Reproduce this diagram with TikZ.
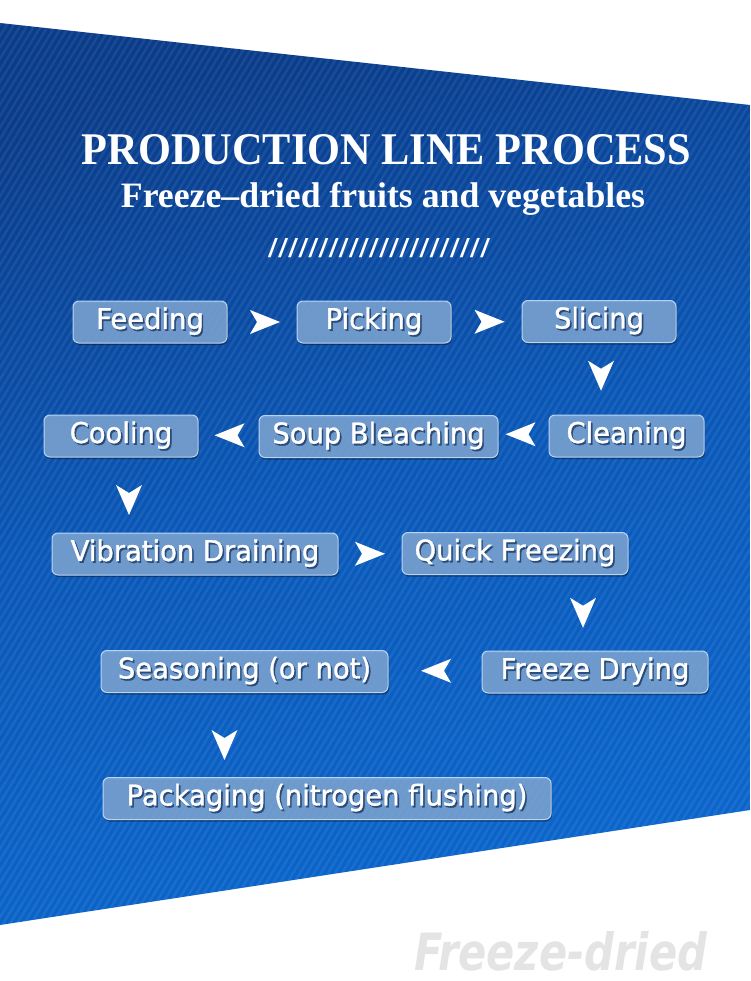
\documentclass[tikz,border=0pt]{standalone}
\usepackage{fontspec}
\setmainfont{DejaVu Sans}
\newfontfamily\titlefont{Liberation Serif}
\newfontfamily\boxfont{DejaVu Sans}[FakeBold=1.2, FakeStretch=0.96]
\usetikzlibrary{calc,shadows}
\definecolor{bgdark}{HTML}{0A3C8A}
\definecolor{bgmid}{HTML}{0A58B8}
\definecolor{bglight}{HTML}{0B66CC}
\definecolor{boxfill}{HTML}{80AADB}
\definecolor{boxline}{HTML}{BCD3EE}
\definecolor{shad}{HTML}{2A4B78}
\definecolor{wmark}{HTML}{E4E4E4}
\newcommand\shtext[1]{\makebox[0pt][l]{\hspace{1.6pt}\raisebox{-1.8pt}{\color{shad}#1}}#1}
\begin{document}
\begin{tikzpicture}[x=1pt,y=-1pt,
  stepbox/.style={draw=boxline, line width=1pt, fill=boxfill, fill opacity=0.85,
    draw opacity=1, text opacity=1, rounded corners=6pt, minimum height=42pt,
    inner sep=0pt, text=white, font=\boxfont\fontsize{28.5}{29}\selectfont,
    drop shadow={shadow xshift=1pt, shadow yshift=-2pt, opacity=0.35, fill=black}},
  arrR/.pic={\fill[white] (15,0) -- (-15,-12) -- (-8,0) -- (-15,12) -- cycle;},
  arrL/.pic={\fill[white] (-15,0) -- (15,-12) -- (8,0) -- (15,12) -- cycle;},
  arrD/.pic={\fill[white] (0,15) -- (-13,-15) -- (0,-7) -- (13,-15) -- cycle;},
  ]
\path[use as bounding box] (0,0) rectangle (750,981);
\fill[white] (0,0) rectangle (750,981);
% blue band
\shade[top color=bgdark, bottom color=bglight, middle color=bgmid, shading angle=15]
  (0,23) -- (750,105) -- (750,810) -- (0,925) -- cycle;
\begin{scope}
  \clip (0,23) -- (750,105) -- (750,810) -- (0,925) -- cycle;
  \foreach \i in {-620,-613,...,760}
    \draw[white, opacity=0.07, line width=2.4pt] (\i,981) -- ++(600,-981);
\end{scope}
% titles
\node[text=white, inner sep=0pt] (title) at (386.5,150)
  {\resizebox{609pt}{30pt}{\titlefont\bfseries PRODUCTION LINE PROCESS}};
\node[text=white, inner sep=0pt, anchor=base] (subtitle) at (383,208)
  {\resizebox{524pt}{!}{\titlefont\bfseries Freeze–dried fruits and vegetables}};
\node[text=white, inner sep=0pt] (slashes) at (379,248)
  {\resizebox{222pt}{19pt}{\fontspec{Liberation Sans}//////////////////////}};
% steps
\node[stepbox, minimum width=154pt] (feed)   at (150,322)   {\shtext{Feeding}};
\node[stepbox, minimum width=154pt] (pick)   at (374,322)   {\shtext{Picking}};
\node[stepbox, minimum width=154pt] (slice)  at (599,321.5) {\shtext{Slicing}};
\node[stepbox, minimum width=155pt] (clean)  at (626.5,436) {\shtext{Cleaning}};
\node[stepbox, minimum width=239pt] (soup)   at (378.5,436.5) {\shtext{Soup Bleaching}};
\node[stepbox, minimum width=154pt] (cool)   at (121,436)   {\shtext{Cooling}};
\node[stepbox, minimum width=286pt] (vib)    at (195,554)   {\shtext{Vibration Draining}};
\node[stepbox, minimum width=226pt] (quick)  at (515,553.5) {\shtext{Quick Freezing}};
\node[stepbox, minimum width=226pt] (fdry)   at (595,672)   {\shtext{Freeze Drying}};
\node[stepbox, minimum width=287pt] (season) at (244.5,671.5) {\shtext{Seasoning (or not)}};
\node[stepbox, minimum width=448pt] (pack)   at (327,798.5) {\shtext{Packaging (nitrogen flushing)}};
% connectors
\path (feed.east) -- (pick.west) pic[pos=0.5, xshift=3pt]{arrR};
\path (pick.east) -- (slice.west) pic[pos=0.5, xshift=3pt]{arrR};
\path (slice.south) -- (slice.south |- clean.north) pic[pos=0.5, xshift=2pt, yshift=3pt]{arrD};
\path (clean.west) -- (soup.east) pic[pos=0.5, xshift=-3pt, yshift=2pt]{arrL};
\path (soup.west) -- (cool.east) pic[pos=0.5, xshift=1pt, yshift=1pt]{arrL};
\path (cool.south) -- (cool.south |- vib.north) pic[pos=0.5, xshift=8pt, yshift=-5pt]{arrD};
\path (vib.east) -- (quick.west) pic[pos=0.5]{arrR};
\path (quick.south -| fdry.north) -- (fdry.north) pic[pos=0.5, xshift=-12pt]{arrD};
\path (fdry.west) -- (season.east) pic[pos=0.5, xshift=1pt, yshift=1pt]{arrL};
\path (season.south) -- (season.south |- pack.north) pic[pos=0.5, xshift=-20pt, yshift=-10pt]{arrD};
% watermark
\node[text=wmark, inner sep=0pt, anchor=base west] (wm) at (414,970)
  {\resizebox{293pt}{39pt}{\fontspec{DejaVu Sans}\bfseries\itshape Freeze-dried}};
\end{tikzpicture}
\end{document}
